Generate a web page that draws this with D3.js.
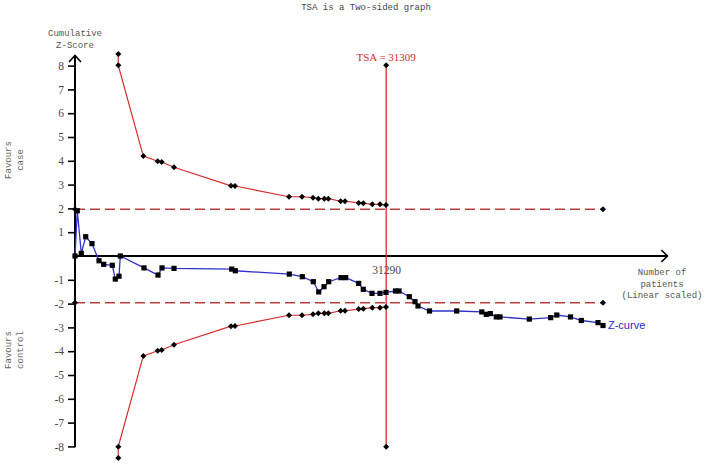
<!DOCTYPE html>
<html><head><meta charset="utf-8">
<script src="https://cdn.jsdelivr.net/npm/d3@7"></script>
<style>body{margin:0;background:#fff}svg{display:block}</style>
</head><body>
<script>
// ---- data ----
const zPatients = [0,231,634,1077,1710,2415,2888,3753,4055,4427,4558,6942,8351,8753,9960,15766,16128,21561,22869,23975,24519,25052,25525,26762,27235,28543,29006,29881,30686,31290,32245,32598,33634,34207,34509,35666,38403,40928,41381,41783,42387,42759,45707,47860,48474,49852,50939,52619,53122];
const zValues = [0,1.90,0.11,0.81,0.52,-0.20,-0.35,-0.39,-0.97,-0.85,0.0,-0.50,-0.80,-0.50,-0.52,-0.55,-0.62,-0.76,-0.87,-1.08,-1.51,-1.29,-1.08,-0.91,-0.91,-1.15,-1.40,-1.57,-1.57,-1.53,-1.47,-1.47,-1.71,-1.92,-2.10,-2.31,-2.31,-2.35,-2.45,-2.42,-2.56,-2.56,-2.65,-2.59,-2.48,-2.56,-2.71,-2.80,-2.92];
const boundPatients = [4356,4356,6872,8320,8723,9960,15695,16098,21531,22838,23945,24478,25082,25485,26732,27165,28543,29006,29911,30686,31290];
const boundUpper = [8.49,8.01,4.20,3.98,3.95,3.73,2.95,2.94,2.49,2.49,2.45,2.41,2.41,2.41,2.30,2.30,2.23,2.22,2.17,2.17,2.14];
const boundLower = boundUpper.map(v => -v);
const conventional = [1.96, -1.96];
const convRange = [0, 53122];
const tsaRIS = 31309;
const tsaRange = [8.01, -8.01];
const xTickValues = [31290];
const yTickValues = [-8,-7,-6,-5,-4,-3,-2,-1,1,2,3,4,5,6,7,8];
const xAxisEnd = 59600;

// ---- layout ----
const W = 706, H = 464;
const svg = d3.select("body").append("svg").attr("width", W).attr("height", H);
const x = d3.scaleLinear().domain([0, 31290]).range([75, 386]);
const y = d3.scaleLinear().domain([-8, 8]).range([446.4, 65.6]);
const mono = "'Liberation Mono', 'DejaVu Sans Mono', monospace";
const serif = "'Liberation Serif', 'DejaVu Serif', serif";
const gray = "#555";
const red = "#d42c2c";
const dashRed = "#b5403f";
const marker = d3.symbol(d3.symbolSquare, 18)();
function addMarker(px, py) {
  svg.append("path").attr("d", marker).attr("transform", `translate(${px},${py}) rotate(45)`).attr("fill", "#000");
}

// title
svg.append("text").attr("x", 366).attr("y", 10).attr("text-anchor", "middle")
  .attr("font-family", mono).attr("font-size", 9).attr("fill", "#444").text("TSA is a Two-sided graph");

// y axis label
const yl = svg.append("text").attr("text-anchor", "middle").attr("font-family", mono).attr("font-size", 9).attr("fill", gray);
yl.append("tspan").attr("x", 75).attr("y", 36).text("Cumulative");
yl.append("tspan").attr("x", 75).attr("y", 48).text("Z-Score");

// favours labels
function rotLabel(cy, l1, l2) {
  const g = svg.append("g").attr("transform", `translate(0,${cy}) rotate(-90)`);
  const t = g.append("text").attr("text-anchor", "middle").attr("font-family", mono).attr("font-size", 9).attr("fill", "#666");
  t.append("tspan").attr("x", 0).attr("y", 10.5).text(l1);
  t.append("tspan").attr("x", 0).attr("y", 23).text(l2);
}
rotLabel(160, "Favours", "case");
rotLabel(350, "Favours", "control");

// x label
const xl = svg.append("text").attr("text-anchor", "middle").attr("font-family", mono).attr("font-size", 9).attr("fill", gray);
xl.append("tspan").attr("x", 662).attr("y", 275).text("Number of");
xl.append("tspan").attr("x", 662).attr("y", 286.5).text("patients");
xl.append("tspan").attr("x", 662).attr("y", 298).text("(Linear scaled)");

// y axis
const yAxis = d3.axisLeft(y).tickValues(yTickValues).tickSize(7).tickSizeOuter(0).tickPadding(4).tickFormat(d => String(d));
const yg = svg.append("g").attr("transform", `translate(${x(0)},0)`).call(yAxis);
yg.select(".domain").remove();
yg.selectAll(".tick line").attr("stroke", "#000").attr("stroke-width", 1.6);
yg.selectAll(".tick text").attr("font-family", serif).attr("font-size", 11.5).attr("fill", "#4a4a4a");
svg.append("line").attr("x1", x(0)).attr("x2", x(0)).attr("y1", 56).attr("y2", y(-8) + 0.8)
  .attr("stroke", "#000").attr("stroke-width", 2);
svg.append("path").attr("d", `M${x(0)-6},${62} L${x(0)},${55.5} L${x(0)+6},${62}`)
  .attr("fill", "none").attr("stroke", "#000").attr("stroke-width", 1.6);

// x axis
svg.append("line").attr("x1", x(0)).attr("x2", x(xAxisEnd)).attr("y1", y(0)).attr("y2", y(0))
  .attr("stroke", "#000").attr("stroke-width", 2);
svg.append("path").attr("d", `M${x(xAxisEnd)-6},${y(0)-6} L${x(xAxisEnd)},${y(0)} L${x(xAxisEnd)-6},${y(0)+6}`)
  .attr("fill", "none").attr("stroke", "#000").attr("stroke-width", 1.6);
const xg = svg.append("g").attr("transform", `translate(0,${y(0)})`)
  .call(d3.axisBottom(x).tickValues(xTickValues).tickSize(0).tickPadding(10).tickFormat(d => String(d)));
xg.select(".domain").remove();
xg.selectAll(".tick text").attr("font-family", serif).attr("font-size", 11.5).attr("fill", "#4a4a4a");

// conventional boundaries
conventional.forEach(v => {
  svg.append("line").attr("x1", x(convRange[0])).attr("x2", x(convRange[1])).attr("y1", y(v)).attr("y2", y(v))
    .attr("stroke", dashRed).attr("stroke-width", 1.5).attr("stroke-dasharray", "10,5");
  convRange.forEach(p => addMarker(x(p), y(v)));
});

// TSA vertical line
svg.append("line").attr("x1", x(tsaRIS)).attr("x2", x(tsaRIS)).attr("y1", y(tsaRange[0])).attr("y2", y(tsaRange[1]))
  .attr("stroke", red).attr("stroke-width", 1.3);
tsaRange.forEach(v => addMarker(x(tsaRIS), y(v)));
svg.append("text").attr("x", x(tsaRIS)).attr("y", 61).attr("text-anchor", "middle")
  .attr("font-family", serif).attr("font-size", 11).attr("fill", red).text("TSA = " + tsaRIS);

// monitoring boundaries
const line = d3.line().x(d => x(d[0])).y(d => y(d[1]));
[boundUpper, boundLower].forEach(vals => {
  const pts = boundPatients.map((p, i) => [p, vals[i]]);
  svg.append("path").attr("d", line(pts)).attr("fill", "none").attr("stroke", red).attr("stroke-width", 1.2);
  pts.forEach(d => addMarker(x(d[0]), y(d[1])));
});

// z-curve
const zpts = zPatients.map((p, i) => [p, zValues[i]]);
svg.append("path").attr("d", line(zpts)).attr("fill", "none").attr("stroke", "#3030d0").attr("stroke-width", 1.3);
svg.append("g").selectAll("rect").data(zpts).join("rect")
  .attr("x", d => x(d[0]) - 2.6).attr("y", d => y(d[1]) - 2.6).attr("width", 5.2).attr("height", 5.2).attr("fill", "#000");
svg.append("text").attr("x", x(zPatients[zPatients.length - 1]) + 5).attr("y", y(zValues[zValues.length - 1]) + 4)
  .attr("font-family", "'Liberation Sans', Arial, sans-serif").attr("font-size", 11).attr("fill", "#2a2ac8").text("Z-curve");
</script>
</body></html>
